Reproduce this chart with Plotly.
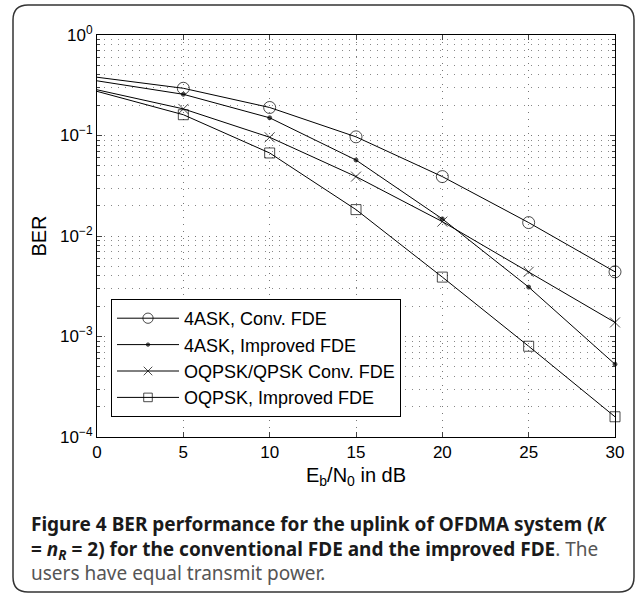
import plotly.graph_objects as go

# ---- data ----
snr_db = [0, 5, 10, 15, 20, 25, 30]
ber_4ask_conv = [0.38, 0.295, 0.19, 0.097, 0.039, 0.0136, 0.0044]
ber_4ask_imp = [0.35, 0.257, 0.150, 0.057, 0.0148, 0.0031, 0.00053]
ber_oqpsk_conv = [0.285, 0.184, 0.096, 0.039, 0.0139, 0.0044, 0.00138]
ber_oqpsk_imp = [0.275, 0.161, 0.067, 0.0183, 0.0039, 0.0008, 0.000159]
series_names = ["4ASK, Conv. FDE", "4ASK, Improved FDE",
                "OQPSK/QPSK Conv. FDE", "OQPSK, Improved FDE"]
x_ticks = [0, 5, 10, 15, 20, 25, 30]
y_decades = [-4, -3, -2, -1, 0]
caption = ("<b>Figure 4 BER performance for the uplink of OFDMA system (<i>K</i><br>"
           "= <i>n<sub>R</sub></i> = 2) for the conventional FDE and the improved FDE</b>"
           "<span style='color:#555'>. The<br>users have equal transmit power.</span>")

W, H = 637, 596
L, R, T, B = 97, 22, 35, 159
PW, PH = W - L - R, H - T - B

def px(x):
    return (x - L) / PW

def py(y):
    return (H - B - y) / PH

symbols = ["circle-open", "circle", "x-thin-open", "square-open"]
sizes = [12, 4, 10, 10]
series = [ber_4ask_conv, ber_4ask_imp, ber_oqpsk_conv, ber_oqpsk_imp]

fig = go.Figure()
for name, ys, sym, sz in zip(series_names, series, symbols, sizes):
    fig.add_trace(go.Scatter(
        x=snr_db, y=ys, name=name, mode="lines+markers",
        line=dict(color="black", width=1),
        marker=dict(symbol=sym, size=[0] + [sz] * (len(snr_db) - 1),
                    color="black", line=dict(color="black", width=1)),
        cliponaxis=False,
    ))

minor_vals = [m * 10 ** d for d in y_decades[:-1] for m in range(2, 10)]

font_main = "Liberation Sans, Arial, sans-serif"
fig.update_layout(
    width=W, height=H,
    margin=dict(l=L, r=R, t=T, b=B),
    paper_bgcolor="white", plot_bgcolor="white",
    font=dict(family=font_main, size=17, color="black"),
    showlegend=True,
    legend=dict(x=px(111), y=py(299), xanchor="left", yanchor="top",
                bordercolor="black", borderwidth=1, bgcolor="white",
                itemwidth=62,
                font=dict(size=18, family=font_main), tracegroupgap=0),
    xaxis=dict(range=[0, 30], tickvals=x_ticks, ticks="inside", ticklen=5,
               showline=True, linecolor="black", linewidth=1, mirror="ticks",
               showgrid=True, gridcolor="#777", griddash="1px,6px", gridwidth=1,
               zeroline=False,
               title=dict(text="E<sub>b</sub>/N<sub>0</sub> in dB", standoff=6),
               tickfont=dict(size=17)),
    yaxis=dict(type="log", range=[-4, 0], tickvals=[10 ** d for d in y_decades],
               ticktext=["10<sup>%s</sup>" % (str(d).replace("-", "\u2212")) for d in y_decades],
               ticks="inside", ticklen=5,
               showline=True, linecolor="black", linewidth=1, mirror="ticks",
               showgrid=True, gridcolor="#777", griddash="1px,6px", gridwidth=1,
               zeroline=False,
               minor=dict(tickvals=minor_vals, ticks="inside", ticklen=3,
                          showgrid=True, gridcolor="#888", griddash="1px,6px"),
               title=dict(text="BER", standoff=8),
               tickfont=dict(size=17)),
)

# rounded frame around figure + caption
x0, x1 = px(13), px(634)
y0, y1 = py(592), py(5)
rx, ry = 15 / PW, 15 / PH
path = (f"M {x0+rx},{y1} L {x1-rx},{y1} Q {x1},{y1} {x1},{y1-ry} "
        f"L {x1},{y0+ry} Q {x1},{y0} {x1-rx},{y0} L {x0+rx},{y0} "
        f"Q {x0},{y0} {x0},{y0+ry} L {x0},{y1-ry} Q {x0},{y1} {x0+rx},{y1} Z")
fig.add_shape(type="path", path=path, xref="paper", yref="paper",
              line=dict(color="#333", width=1.5), fillcolor="rgba(0,0,0,0)",
              layer="below")

fig.add_annotation(text=caption, xref="paper", yref="paper", x=px(29), y=py(509),
                   xanchor="left", yanchor="top", align="left", showarrow=False,
                   font=dict(family="Noto Sans, Open Sans, sans-serif", size=19,
                             color="#1a1a1a"))

fig.write_html("out.html", config={"displayModeBar": False},
               post_script="document.body.style.margin='0';document.body.style.overflow='hidden';")
